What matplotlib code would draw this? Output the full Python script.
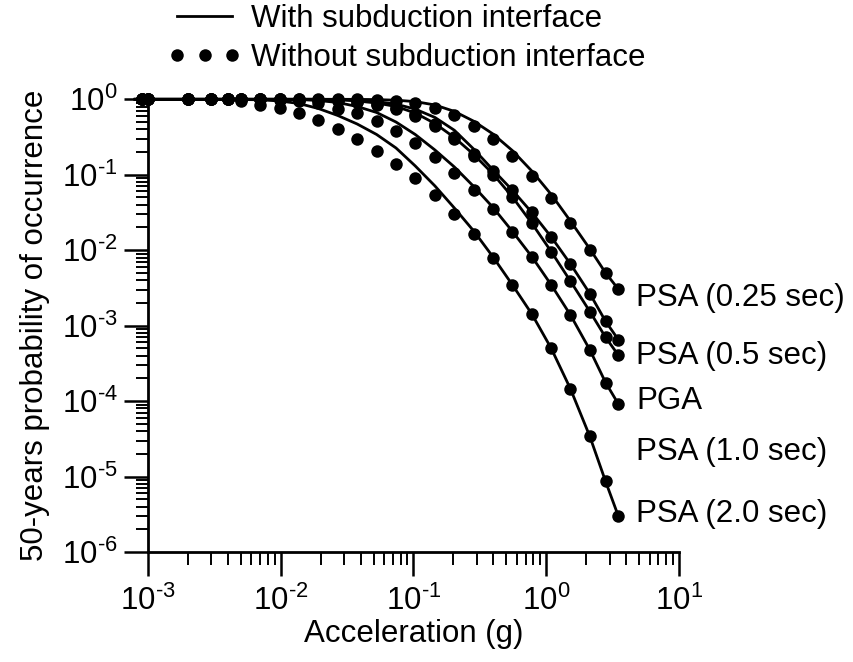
import math
import matplotlib
matplotlib.use("Agg")
import matplotlib.pyplot as plt
from matplotlib.lines import Line2D
from matplotlib.ticker import LogLocator, NullFormatter, FuncFormatter

plt.rcParams["font.family"] = ["Liberation Sans", "DejaVu Sans"]
plt.rcParams["mathtext.fontset"] = "custom"
plt.rcParams["mathtext.rm"] = "Liberation Sans"
plt.rcParams["mathtext.it"] = "Liberation Sans:italic"
plt.rcParams["mathtext.bf"] = "Liberation Sans:bold"
plt.rcParams["mathtext.default"] = "regular"
plt.rcParams["axes.unicode_minus"] = False

# Acceleration levels (g)
accel_line = [0.0008, 0.001, 0.002, 0.003, 0.004, 0.005, 0.007, 0.0098, 0.0137, 0.0192,
              0.0269, 0.0376, 0.0527, 0.0738, 0.103, 0.145, 0.203, 0.284, 0.397, 0.556,
              0.778, 1.09, 1.52, 2.13, 2.8, 3.5]
accel_dots = [0.0009, 0.001, 0.002, 0.003, 0.004, 0.005, 0.007, 0.0098, 0.0137, 0.0192,
              0.0269, 0.0376, 0.0527, 0.0738, 0.103, 0.145, 0.203, 0.284, 0.397, 0.556,
              0.778, 1.09, 1.52, 2.13, 2.8, 3.5]

# 50-year probability of exceedance, with subduction interface (solid lines)
with_psa025 = [1, 1, 1, 1, 1, 1, 1, 1, 1, 1, 1, 0.998, 0.991, 0.973, 0.933, 0.841, 0.692,
               0.513, 0.347, 0.209, 0.1122, 0.0548, 0.0244, 0.0104, 0.0050, 0.00303]
with_psa05 = [1, 1, 1, 1, 1, 1, 1, 1, 1, 1, 0.993, 0.973, 0.933, 0.863, 0.741, 0.575, 0.389,
              0.219, 0.1159, 0.0623, 0.0317, 0.0150, 0.00659, 0.00266, 0.00114, 0.000648]
with_pga = [1, 1, 1, 1, 1, 1, 1, 1, 1, 1, 0.990, 0.950, 0.893, 0.803, 0.659, 0.478, 0.312,
            0.186, 0.1025, 0.0508, 0.0228, 0.00958, 0.0039, 0.00154, 0.0007, 0.000404]
with_psa10 = [1, 1, 1, 1, 1, 1, 1, 1, 0.994, 0.964, 0.907, 0.803, 0.669, 0.500, 0.342, 0.213,
              0.127, 0.070, 0.0369, 0.01775, 0.00823, 0.00347, 0.00139, 0.000478, 0.000176,
              9.1e-5]
with_psa20 = [1, 1, 1, 1, 1, 0.994, 0.985, 0.950, 0.880, 0.755, 0.610, 0.471, 0.342, 0.2265,
              0.131, 0.0711, 0.0363, 0.018, 0.00815, 0.00347, 0.00143, 0.0005, 0.000146,
              3.4e-5, 8.6e-6, 2.96e-6]

# Without subduction interface (dots)
without_psa025 = [1, 1, 1, 1, 1, 1, 1, 1, 1, 1, 1, 0.994, 0.98, 0.95, 0.885, 0.760, 0.610,
                  0.443, 0.295, 0.1775, 0.097, 0.0493, 0.0232, 0.0102, 0.00496, 0.00303]
without_psa05 = [1, 1, 1, 1, 1, 1, 1, 1, 0.995, 0.985, 0.965, 0.935, 0.866, 0.760, 0.638,
                 0.471, 0.312, 0.191, 0.1106, 0.0623, 0.0317, 0.0150, 0.00659, 0.00266,
                 0.00114, 0.000648]
without_pga = [1, 1, 1, 1, 1, 1, 1, 1, 0.993, 0.98, 0.958, 0.921, 0.841, 0.733, 0.592, 0.443,
               0.294, 0.1775, 0.0994, 0.0508, 0.0228, 0.00958, 0.0039, 0.00154, 0.0007,
               0.000404]
without_psa10 = [1, 1, 1, 1, 1, 1, 1, 0.99, 0.964, 0.893, 0.755, 0.649, 0.508, 0.375, 0.264,
                 0.170, 0.1066, 0.0629, 0.0349, 0.0175, 0.00823, 0.00347, 0.00139, 0.000478,
                 0.000176, 9.1e-5]
without_psa20 = [1, 1, 1, 1, 1, 0.964, 0.848, 0.77, 0.66, 0.527, 0.408, 0.298, 0.209, 0.139,
                 0.0907, 0.0532, 0.0303, 0.0164, 0.00783, 0.00347, 0.00143, 0.0005, 0.000146,
                 3.4e-5, 8.6e-6, 2.96e-6]

with_curves = [with_psa025, with_psa05, with_pga, with_psa10, with_psa20]
without_curves = [without_psa025, without_psa05, without_pga, without_psa10, without_psa20]

curve_labels = ["PSA (0.25 sec)", "PSA (0.5 sec)", "PGA", "PSA (1.0 sec)", "PSA (2.0 sec)"]
label_x = 4.75
label_y = [2.33e-3, 3.98e-4, 1.01e-4, 2.13e-5, 3.21e-6]

FS = 22.5
LW = 2.0
MS = 9.0


def power_label(value, _pos):
    exponent = int(round(math.log10(value)))
    return r"$10^{\text{%d}}$" % exponent


fig = plt.figure(figsize=(8.54, 6.62), dpi=100)
ax = fig.add_axes([148 / 854, 1 - 552 / 662, (679 - 148) / 854, (552 - 99.3) / 662])

for ys in with_curves:
    ax.plot(accel_line, ys, color="black", lw=LW, clip_on=False, zorder=2,
            solid_joinstyle="round")
for ys in without_curves:
    ax.plot(accel_dots, ys, linestyle="none", marker="o", ms=MS, color="black",
            markeredgewidth=0, clip_on=False, zorder=3)

ax.set_xscale("log")
ax.set_yscale("log")
ax.set_xlim(1e-3, 1e1)
ax.set_ylim(1e-6, 1)

ax.xaxis.set_major_locator(LogLocator(base=10, numticks=10))
ax.xaxis.set_minor_locator(LogLocator(base=10, subs=range(2, 10), numticks=100))
ax.yaxis.set_major_locator(LogLocator(base=10, numticks=10))
ax.yaxis.set_minor_locator(LogLocator(base=10, subs=range(2, 10), numticks=100))
ax.xaxis.set_major_formatter(FuncFormatter(power_label))
ax.yaxis.set_major_formatter(FuncFormatter(power_label))
ax.xaxis.set_minor_formatter(NullFormatter())
ax.yaxis.set_minor_formatter(NullFormatter())

for side in ("top", "right"):
    ax.spines[side].set_visible(False)
for side in ("left", "bottom"):
    ax.spines[side].set_linewidth(2.0)

ax.tick_params(which="major", direction="out", length=17, width=1.8,
               labelsize=FS, pad=5)
ax.tick_params(which="minor", direction="out", length=9, width=1.4)
ax.tick_params(axis="x", which="major", pad=7)

ax.set_xlabel("Acceleration (g)", fontsize=FS, labelpad=2)
ax.set_ylabel("50-years probability of occurrence", fontsize=FS, labelpad=8)

for text, y in zip(curve_labels, label_y):
    ax.text(label_x, y, text, fontsize=FS, va="center", ha="left", clip_on=False)

handles = [
    Line2D([], [], color="black", lw=LW),
    Line2D([], [], linestyle="none", marker="o", ms=MS, color="black", markeredgewidth=0),
]
fig.legend(handles, ["With subduction interface", "Without subduction interface"],
           loc="upper left", bbox_to_anchor=(168 / 854, 1 - 4 / 662), frameon=False,
           fontsize=FS, numpoints=3, handlelength=2.35, handletextpad=0.3,
           labelspacing=0.3, borderaxespad=0.0, borderpad=0.0)

fig.savefig("out.png", dpi=100)
